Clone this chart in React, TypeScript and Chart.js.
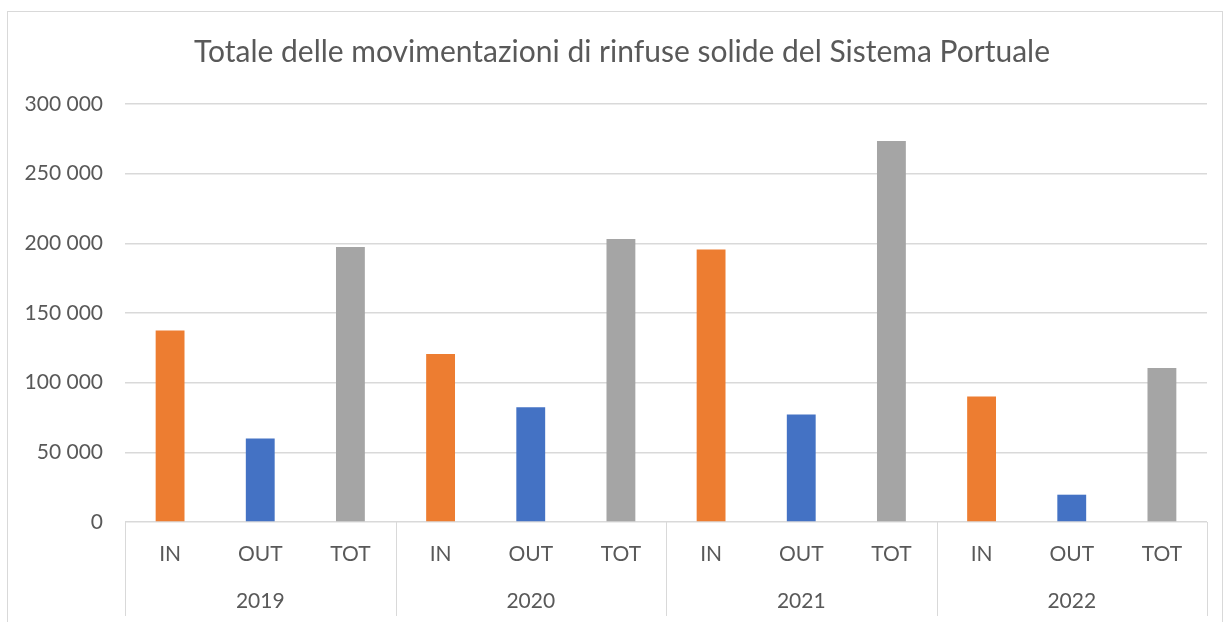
import React, { useEffect, useRef } from "react";
import { Chart, registerables } from "chart.js";

Chart.register(...registerables);

const years = ["2019", "2020", "2021", "2022"];
const flows = ["IN", "OUT", "TOT"];
const inValues = [137500, 120500, 195600, 90000];
const outValues = [60000, 82400, 77100, 19600];
const totValues = [197300, 203100, 273400, 110600];
const flowColors = ["#ED7D31", "#4472C4", "#A5A5A5"];
const titleText = "Totale delle movimentazioni di rinfuse solide del Sistema Portuale";

const FONT = "Lato, 'Open Sans', 'DejaVu Sans', sans-serif";
const TEXT = "#595959";
const GRID = "#d9d9d9";

export default function App() {
  const ref = useRef<HTMLCanvasElement | null>(null);

  useEffect(() => {
    if (!ref.current) return;
    const labels: string[] = [];
    const data: number[] = [];
    const colors: string[] = [];
    years.forEach((_, i) => {
      const vals = [inValues[i], outValues[i], totValues[i]];
      flows.forEach((f, j) => {
        labels.push(f);
        data.push(vals[j]);
        colors.push(flowColors[j]);
      });
    });

    const groupPlugin = {
      id: "groups",
      afterDraw(chart: any) {
        const ctx = chart.ctx;
        const area = chart.chartArea;
        const xs = chart.scales.x;
        ctx.save();
        // title
        ctx.fillStyle = TEXT;
        ctx.font = `30px ${FONT}`;
        ctx.textAlign = "center";
        ctx.textBaseline = "middle";
        ctx.fillText(titleText, 622, 52);
        // group dividers
        ctx.strokeStyle = GRID;
        ctx.lineWidth = 1;
        for (let g = 0; g <= years.length; g++) {
          let x: number;
          if (g === 0) x = area.left;
          else if (g === years.length) x = area.right;
          else x = (xs.getPixelForValue(3 * g - 1) + xs.getPixelForValue(3 * g)) / 2;
          x = Math.round(x) + 0.5;
          ctx.beginPath();
          ctx.moveTo(x, area.bottom);
          ctx.lineTo(x, 616);
          ctx.stroke();
        }
        // year labels
        ctx.font = `21px ${FONT}`;
        years.forEach((y, g) => {
          const cx = xs.getPixelForValue(3 * g + 1);
          ctx.fillText(y, cx, 601);
        });
        ctx.restore();
      },
    };

    const chart = new Chart(ref.current, {
      type: "bar",
      data: {
        labels,
        datasets: [
          {
            data,
            backgroundColor: colors,
            borderWidth: 0,
            barPercentage: 0.32,
            categoryPercentage: 1,
          },
        ],
      },
      options: {
        animation: false,
        responsive: false,
        maintainAspectRatio: false,
        layout: { padding: { top: 104, right: 19, left: 0, bottom: 0 } },
        plugins: {
          legend: { display: false },
          title: { display: false },
          tooltip: { enabled: false },
        },
        scales: {
          x: {
            grid: { display: false, drawTicks: false },
            border: { display: false },
            ticks: {
              color: TEXT,
              font: { family: FONT, size: 21 },
              padding: 20,
              maxRotation: 0,
              autoSkip: false,
            },
            afterFit(scale: any) {
              scale.height = 100;
            },
          },
          y: {
            min: 0,
            max: 300000,
            grid: { color: GRID, lineWidth: 1.5, drawTicks: false },
            border: { display: false },
            ticks: {
              stepSize: 50000,
              color: TEXT,
              font: { family: FONT, size: 21 },
              padding: 22,
              callback: (v: any) => String(v).replace(/\B(?=(\d{3})+(?!\d))/g, " "),
            },
            afterFit(scale: any) {
              scale.width = 125;
            },
          },
        },
      },
      plugins: [groupPlugin],
    });
    return () => chart.destroy();
  }, []);

  return (
    <div style={{ position: "absolute", left: 0, top: 0, width: 1226, height: 622, background: "#fff", overflow: "hidden" }}>
      <div
        style={{
          position: "absolute",
          left: 7,
          top: 11,
          width: 1216,
          height: 640,
          border: "1px solid #d9d9d9",
          boxSizing: "border-box",
        }}
      />
      <canvas ref={ref} width={1226} height={622} style={{ position: "absolute", left: 0, top: 0 }} />
    </div>
  );
}
